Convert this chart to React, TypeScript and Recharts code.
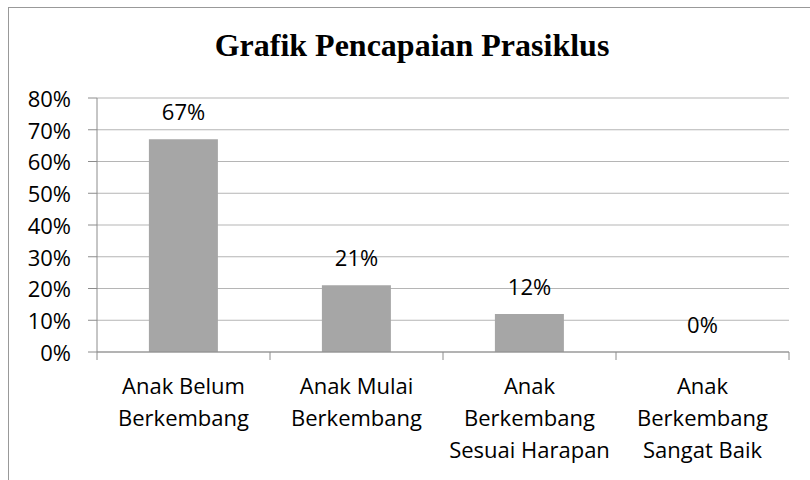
import React from 'react';
import { ComposedChart, Bar, Line, XAxis, YAxis, CartesianGrid, LabelList } from 'recharts';

// chart data
const title = 'Grafik Pencapaian Prasiklus';
const categories = [
  'Anak Belum\nBerkembang',
  'Anak Mulai\nBerkembang',
  'Anak\nBerkembang\nSesuai Harapan',
  'Anak\nBerkembang\nSangat Baik',
];
const percentages = [67, 21, 12, 0];
const yTicks = [0, 10, 20, 30, 40, 50, 60, 70, 80];

const data = categories.map((name, i) => ({ name, value: percentages[i] }));

const FONT = '"Open Sans", Lato, sans-serif';
const FS = 22;
const AXIS = '#8c8c8c';
const GRID = '#b5b5b5';
const BAR = '#a6a6a6';

const W = 810;
const H = 480;

// category label + boundary tick marks (Excel style)
const CategoryTick = ({ x, y, payload, index }: any) => {
  const half = payload && payload.offset ? payload.offset : 86.5;
  const lines = String(payload.value).split('\n');
  const isLast = index === categories.length - 1;
  return (
    <g>
      <line x1={x - half} x2={x - half} y1={y} y2={y + 8} stroke={AXIS} />
      {isLast && <line x1={x + half} x2={x + half} y1={y} y2={y + 8} stroke={AXIS} />}
      <text textAnchor="middle" fontFamily={FONT} fontSize={FS} fill="#000">
        {lines.map((line, i) => (
          <tspan key={i} x={x} y={y + 42 + i * 32}>
            {line}
          </tspan>
        ))}
      </text>
    </g>
  );
};

export default function App() {
  return (
    <div style={{ position: 'fixed', left: 0, top: 0, width: W, height: H, overflow: 'hidden', background: '#fff' }}>
      <div
        style={{
          position: 'absolute',
          left: 8,
          top: 7,
          width: 900,
          height: 600,
          border: '1px solid #999',
        }}
      />
      <div style={{ position: 'absolute', left: 0, top: 0 }}>
        <ComposedChart
          width={W}
          height={H}
          data={data}
          margin={{ top: 98, right: 21, left: 0, bottom: 0 }}
          barCategoryGap="30%"
        >
          <CartesianGrid vertical={false} stroke={GRID} />
          <XAxis
            dataKey="name"
            height={128}
            interval={0}
            stroke={AXIS}
            tickLine={false}
            tickSize={0}
            tickMargin={0}
            tick={<CategoryTick />}
          />
          <YAxis
            width={97}
            domain={[0, 80]}
            ticks={yTicks}
            interval={0}
            stroke={AXIS}
            tickSize={9}
            tickMargin={17}
            tickFormatter={(v: number) => `${v}%`}
            tick={{ fontFamily: FONT, fontSize: FS, fill: '#000', dy: 1 }}
          />
          <Bar dataKey="value" fill={BAR} isAnimationActive={false} />
          {/* invisible line only to carry the value labels (also for the 0% bar) */}
          <Line
            dataKey="value"
            stroke="none"
            dot={false}
            activeDot={false}
            legendType="none"
            isAnimationActive={false}
          >
            <LabelList
              dataKey="value"
              position="top"
              offset={19}
              formatter={(v: any) => `${v}%`}
              fontFamily={FONT}
              fontSize={FS}
              fill="#000"
            />
          </Line>
        </ComposedChart>
      </div>
      <svg
        width={W}
        height={H}
        style={{ position: 'absolute', left: 0, top: 0, pointerEvents: 'none' }}
      >
        <text
          x={412}
          y={56}
          textAnchor="middle"
          fontFamily='"Liberation Serif", "Times New Roman", serif'
          fontWeight="bold"
          fontSize={32}
          fill="#000"
        >
          {title}
        </text>
      </svg>
    </div>
  );
}
